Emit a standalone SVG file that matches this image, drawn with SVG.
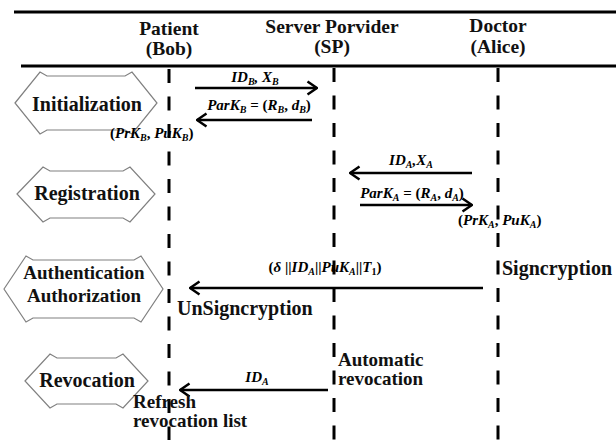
<svg xmlns="http://www.w3.org/2000/svg" width="616" height="440" viewBox="0 0 616 440">
<style>
.hdr{font-family:"Liberation Serif",serif;font-weight:bold;font-size:19.5px;fill:#111;text-anchor:middle}
.lbl{font-family:"Liberation Serif",serif;font-weight:bold;font-size:20px;fill:#111}
.lbl2{font-family:"Liberation Serif",serif;font-weight:bold;font-size:19px;fill:#111}
.ph{fill:#fff;stroke:#808080;stroke-width:1.2}
.math{font-family:"Liberation Serif",serif;font-weight:bold;font-style:italic;font-size:15px;fill:#000}
.sub{font-size:10px}
.life{stroke:#000;stroke-width:3;stroke-dasharray:14 13.5}
.msg{stroke:#000;stroke-width:2.5;fill:none}
.rule{stroke:#000;stroke-width:2.8}
</style>
<defs>
<marker id="ah" markerUnits="userSpaceOnUse" viewBox="0 0 12 16" refX="11" refY="8" markerWidth="12" markerHeight="16" orient="auto">
<path d="M1.5,1.5 L11,8 L1.5,14.5" fill="none" stroke="#000" stroke-width="2.5"/>
</marker>
</defs>
<rect width="616" height="440" fill="#fff"/>
<line class="rule" x1="14" y1="12" x2="616" y2="12"/>
<line class="rule" x1="21" y1="66" x2="616" y2="66"/>

<g id="patient">
<text class="hdr" x="169" y="35">Patient</text>
<text class="hdr" x="169" y="55">(Bob)</text>
</g>
<g id="server">
<text class="hdr" x="332" y="33">Server Porvider</text>
<text class="hdr" x="332" y="53">(SP)</text>
</g>
<g id="doctor">
<text class="hdr" x="498" y="32">Doctor</text>
<text class="hdr" x="498" y="53">(Alice)</text>
</g>

<g id="lifelines">
<line class="life" x1="169" y1="69" x2="169" y2="440"/>
<line class="life" x1="334" y1="68" x2="334" y2="440"/>
<line class="life" x1="498" y1="68" x2="498" y2="440"/>
</g>

<g id="phase-initialization">
<polygon class="ph" points="15,103 40,72 47,76 125,76 132,72 157,103 132,134 125,130 47,130 40,134"/>
<text class="lbl" x="87" y="111" text-anchor="middle">Initialization</text>
</g>
<g id="phase-registration">
<polygon class="ph" points="17,194 43,167 50,171 123,171 130,167 155,194 130,222 123,218 50,218 43,222"/>
<text class="lbl" x="87" y="200" text-anchor="middle">Registration</text>
</g>
<g id="phase-authentication">
<polygon class="ph" points="4,289 26,256 33,260 134,260 141,256 163,289 141,322 134,318 33,318 26,322"/>
<text class="lbl2" x="84" y="279" text-anchor="middle">Authentication</text>
<text class="lbl2" x="84" y="302" text-anchor="middle">Authorization</text>
</g>
<g id="phase-revocation">
<polygon class="ph" points="25,381 50,354 57,358 116,358 123,354 148,381 123,408 116,404 57,404 50,408"/>
<text class="lbl" x="87" y="387" text-anchor="middle">Revocation</text>
</g>

<g id="connectors">
<line class="msg" x1="195" y1="88" x2="317" y2="88" marker-end="url(#ah)"/>
<line class="msg" x1="312" y1="120" x2="197" y2="120" marker-end="url(#ah)"/>
<line class="msg" x1="472" y1="173" x2="350" y2="173" marker-end="url(#ah)"/>
<line class="msg" x1="360" y1="205" x2="472" y2="205" marker-end="url(#ah)"/>
<line class="msg" x1="483" y1="288" x2="190" y2="288" marker-end="url(#ah)"/>
<line class="msg" x1="328" y1="390" x2="180" y2="390" marker-end="url(#ah)"/>
</g>

<g id="message-labels">
<text class="math" x="255" y="82" text-anchor="middle">ID<tspan class="sub" dy="3">B</tspan><tspan dy="-3">, X</tspan><tspan class="sub" dy="3">B</tspan></text>
<text class="math" x="259" y="110" text-anchor="middle">ParK<tspan class="sub" dy="3">B</tspan><tspan dy="-3" font-style="normal"> = (</tspan><tspan>R</tspan><tspan class="sub" dy="3">B</tspan><tspan dy="-3" font-style="normal">, </tspan><tspan>d</tspan><tspan class="sub" dy="3">B</tspan><tspan dy="-3" font-style="normal">)</tspan></text>
<text class="math" x="110" y="138"><tspan font-style="normal">(</tspan>PrK<tspan class="sub" dy="3">B</tspan><tspan dy="-3" font-style="normal">, </tspan>PuK<tspan class="sub" dy="3">B</tspan><tspan dy="-3" font-style="normal">)</tspan></text>
<text class="math" x="411" y="165" text-anchor="middle">ID<tspan class="sub" dy="3">A</tspan><tspan dy="-3">,X</tspan><tspan class="sub" dy="3">A</tspan></text>
<text class="math" x="412" y="198" text-anchor="middle">ParK<tspan class="sub" dy="3">A</tspan><tspan dy="-3" font-style="normal"> = (</tspan><tspan>R</tspan><tspan class="sub" dy="3">A</tspan><tspan dy="-3" font-style="normal">, </tspan><tspan>d</tspan><tspan class="sub" dy="3">A</tspan><tspan dy="-3" font-style="normal">)</tspan></text>
<text class="math" x="458" y="225"><tspan font-style="normal">(</tspan>PrK<tspan class="sub" dy="3">A</tspan><tspan dy="-3" font-style="normal">, </tspan>PuK<tspan class="sub" dy="3">A</tspan><tspan dy="-3" font-style="normal">)</tspan></text>
<text class="math" x="325" y="272" text-anchor="middle"><tspan font-style="normal">(</tspan>δ <tspan font-style="normal">||</tspan>ID<tspan class="sub" dy="3">A</tspan><tspan dy="-3" font-style="normal">||</tspan>PuK<tspan class="sub" dy="3">A</tspan><tspan dy="-3" font-style="normal">||</tspan>T<tspan class="sub" dy="3" font-style="normal">1</tspan><tspan dy="-3" font-style="normal">)</tspan></text>
<text class="math" x="257" y="382" text-anchor="middle">ID<tspan class="sub" dy="3">A</tspan></text>
</g>

<g id="actions">
<text class="lbl" x="502" y="275">Signcryption</text>
<text class="lbl" x="177" y="315">UnSigncryption</text>
<text class="lbl2" x="338" y="366">Automatic</text>
<text class="lbl2" x="338" y="385">revocation</text>
<text class="lbl2" x="133" y="408">Refresh</text>
<text class="lbl2" x="133" y="427">revocation list</text>
</g>
</svg>
